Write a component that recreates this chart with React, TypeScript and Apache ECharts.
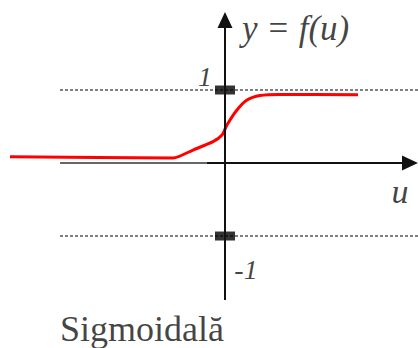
import React, { useEffect, useRef } from "react";
import * as echarts from "echarts";

// sigmoid curve (u, y)
const curveU = [-2.945, -0.712, -0.438, -0.164, -0.041, 0.027, 0.164, 0.301, 0.479, 0.753, 1.822];
const curveY = [0.086, 0.07, 0.178, 0.292, 0.384, 0.521, 0.726, 0.863, 0.925, 0.94, 0.935];

// axis extents in data units
const hAxisFrom = -2.26;
const hAxisGrayTo = -0.25;
const hAxisTo = 2.644;
const vAxisFrom = -1.877;
const vAxisTo = 2.068;

// dotted reference levels and ticks
const levels = [1, -1];

// text labels
const labelTexts = ["y = f(u)", "1", "-1", "u", "Sigmoidală"];
const labelU = [0.233, -0.274, 0.288, 2.397, -1.137];
const labelY = [1.836, 1.19, -1.452, -0.397, -2.274];

const X_MIN = -3;
const X_MAX = 2.644;
const Y_MIN = -2.534;
const Y_MAX = 2.233;

export default function App() {
  const ref = useRef<HTMLDivElement>(null);
  useEffect(() => {
    if (!ref.current) return;
    const chart = echarts.init(ref.current, null, { renderer: "svg" });
    const serif = "Liberation Serif, Times New Roman, serif";
    const labelStyles = [
      { fontStyle: "italic", fontSize: 35, align: "left" },
      { fontStyle: "italic", fontSize: 28, align: "center" },
      { fontStyle: "italic", fontSize: 28, align: "center" },
      { fontStyle: "italic", fontSize: 34, align: "center" },
      { fontStyle: "normal", fontSize: 36, align: "center" },
    ];
    const series: any[] = [];
    levels.forEach((lv) => {
      series.push({
        type: "line",
        data: [
          [hAxisFrom, lv],
          [X_MAX, lv],
        ],
        symbol: "none",
        silent: true,
        lineStyle: { color: "#000", width: 1.2, type: [3, 2] },
        z: 1,
      });
    });
    series.push({
      type: "line",
      data: [
        [hAxisFrom, 0],
        [hAxisGrayTo, 0],
      ],
      symbol: "none",
      lineStyle: { color: "#666", width: 2 },
      z: 2,
    });
    series.push({
      type: "line",
      data: [],
      symbol: "none",
      z: 2,
      markLine: {
        silent: true,
        animation: false,
        symbol: ["none", "triangle"],
        symbolSize: [15, 16],
        label: { show: false },
        lineStyle: { color: "#111", width: 2, type: "solid" },
        data: [
          [{ coord: [hAxisGrayTo, 0] }, { coord: [hAxisTo - 0.11, 0] }],
          [{ coord: [0, vAxisFrom] }, { coord: [0, vAxisTo - 0.11] }],
        ],
      },
    });
    series.push({
      type: "line",
      data: curveU.map((u, i) => [u, curveY[i]]),
      symbol: "none",
      smooth: 0.25,
      lineStyle: { color: "#ff0000", width: 3 },
      z: 3,
    });
    series.push({
      type: "scatter",
      data: levels.map((lv) => [0, lv]),
      symbol: "rect",
      symbolSize: [20, 9],
      itemStyle: { color: "#000" },
      z: 4,
    });
    series.push({
      type: "scatter",
      symbolSize: 0,
      z: 5,
      data: labelTexts.map((t, i) => ({
        value: [labelU[i], labelY[i]],
        label: {
          show: true,
          formatter: t,
          position: [0, 0],
          verticalAlign: "middle",
          color: "#111",
          fontFamily: serif,
          ...labelStyles[i],
        },
      })),
    });
    chart.setOption({
      animation: false,
      textStyle: { fontFamily: serif },
      grid: { left: 6, right: 0, top: 0, bottom: 0 },
      xAxis: { type: "value", min: X_MIN, max: X_MAX, show: false },
      yAxis: { type: "value", min: Y_MIN, max: Y_MAX, show: false },
      series,
    });
    return () => chart.dispose();
  }, []);
  return (
    <div
      ref={ref}
      style={{ position: "fixed", left: 0, top: 0, width: 418, height: 348, background: "#fff" }}
    />
  );
}
